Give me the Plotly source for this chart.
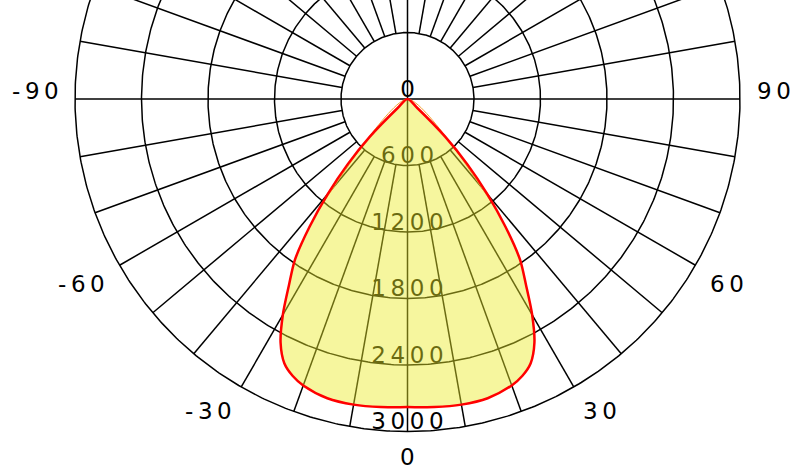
import numpy as np
import plotly.graph_objects as go

# ---- data (candela vs. angle, 0 = nadir, positive to the right) ----
red_angles = [-50, -47.5, -45, -42.5, -40, -37.5, -35, -32.5, -30, -27.5, -25, -22.5, -20, -15, -10, -5,
              0, 5, 10, 15, 20, 22.5, 25, 27.5, 30, 32.5, 35, 37.5, 40, 42.5, 45, 47.5, 50]
red_cd = [0, 120, 480, 800, 1120, 1450, 1770, 1990, 2250, 2480, 2630, 2705, 2750, 2795, 2800, 2790,
          2780, 2790, 2800, 2795, 2750, 2705, 2630, 2480, 2250, 1990, 1770, 1450, 1120, 800, 480, 120, 0]

orange_angles = [-40, -39, -37.5, -35, -32.5, -30, -27.5, -25, -22.5, -20, -15, -10, -5,
                 0, 5, 10, 15, 20, 22.5, 25, 27.5, 30, 32.5, 35, 37.5, 39, 40]
orange_cd = [0, 1220, 1450, 1770, 1990, 2250, 2480, 2630, 2705, 2750, 2795, 2800, 2790,
             2780, 2790, 2800, 2795, 2750, 2705, 2630, 2480, 2250, 1990, 1770, 1450, 1220, 0]

ring_values = [600, 1200, 1800, 2400, 3000]
radial_labels = ["0", "600", "1200", "1800", "2400", "3000"]
radial_label_values = [0, 600, 1200, 1800, 2400, 3000]
spoke_step = 10
angle_ticks = [-90, -60, -30, 0, 30, 60, 90]
angle_labels = ["-90", "-60", "-30", "0", "30", "60", "90"]

R_MAX = 3000
PX = R_MAX / 332.5          # candela per pixel


def to_xy(theta_deg, r):
    t = np.radians(np.asarray(theta_deg, dtype=float))
    r = np.asarray(r, dtype=float)
    return r * np.sin(t), -r * np.cos(t)


def spaced(s):
    return "\u2009".join(list(s))


FONT = "DejaVu Sans"
FS = 23
fig = go.Figure()

# ---- grid ----
gx, gy = [], []
circ = np.linspace(0, 360, 721)
for rv in ring_values:
    x, y = to_xy(circ, np.full_like(circ, rv))
    gx += list(x) + [None]
    gy += list(y) + [None]
for a in range(0, 360, spoke_step):
    r0 = 0 if a % 90 == 0 else ring_values[0]
    x, y = to_xy([a, a], [r0, R_MAX])
    gx += list(x) + [None]
    gy += list(y) + [None]
fig.add_trace(go.Scatter(x=gx, y=gy, mode="lines", line=dict(color="black", width=1.5),
                         hoverinfo="skip", showlegend=False))

# ---- radial labels (under the fill) ----
lx, ly = to_xy([0] * len(radial_label_values), [v - 8 * PX for v in radial_label_values])
fig.add_trace(go.Scatter(x=lx, y=ly, mode="text", text=[spaced(s) for s in radial_labels],
                         textposition="middle center",
                         textfont=dict(family=FONT, size=FS, color="black"),
                         hoverinfo="skip", showlegend=False))

# ---- photometric curve ----
rx, ry = to_xy(red_angles, red_cd)
fig.add_trace(go.Scatter(x=rx, y=ry, mode="lines", fill="toself",
                         fillcolor="rgba(235,235,40,0.45)",
                         line=dict(color="rgba(0,0,0,0)", width=0, shape="spline", smoothing=0.8),
                         hoverinfo="skip", showlegend=False))
ox, oy = to_xy(orange_angles, orange_cd)
fig.add_trace(go.Scatter(x=ox, y=oy, mode="lines",
                         line=dict(color="#f5a030", width=1, shape="spline", smoothing=0.6),
                         hoverinfo="skip", showlegend=False))
fig.add_trace(go.Scatter(x=rx, y=ry, mode="lines",
                         line=dict(color="#ff0000", width=2.5, shape="spline", smoothing=0.8),
                         hoverinfo="skip", showlegend=False))

# ---- angular labels (anchored by their inner edge, just outside the outer ring) ----
R_LAB = 347 * PX
for a, lab in zip(angle_ticks, angle_labels):
    t = np.radians(a)
    x = R_LAB * np.sin(t)
    if abs(a) < 90:
        y = -(R_LAB * np.cos(t) + 11 * PX)
    else:
        y = 8 * PX
    xa = "center" if a == 0 else ("right" if a < 0 else "left")
    fig.add_annotation(x=float(x), y=float(y), text=spaced(lab), showarrow=False,
                       xanchor=xa, yanchor="middle",
                       font=dict(family=FONT, size=FS, color="black"))

# ---- layout: centre at pixel (407.5, 99) ----
W, H = 802, 470
cx, cy = 407.5, 99
fig.update_layout(
    width=W, height=H, margin=dict(l=0, r=0, t=0, b=0),
    paper_bgcolor="white", plot_bgcolor="white",
    xaxis=dict(range=[-cx * PX, (W - cx) * PX], visible=False, fixedrange=True),
    yaxis=dict(range=[-(H - cy) * PX, cy * PX], visible=False, fixedrange=True),
    showlegend=False,
)
fig.write_html("out.html", config={"displayModeBar": False},
               post_script="document.body.style.margin='0';document.body.style.overflow='hidden';")
